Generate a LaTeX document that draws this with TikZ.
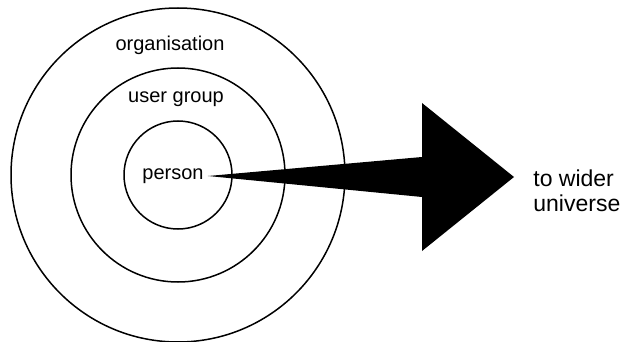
\documentclass[tikz,border=0pt]{standalone}
\usepackage{fontspec}
\setmainfont{Liberation Sans}
\usetikzlibrary{positioning}
\usetikzlibrary{calc}

\begin{document}
\begin{tikzpicture}[x=0.5pt, y=-0.5pt,
                    ring/.style={draw, circle, line width=0.75pt, inner sep=0pt},
                    lbl/.style={font=\fontsize{10}{12}\selectfont, inner sep=2pt},
                    far/.style={font=\fontsize{11.5}{12.5}\selectfont, align=left, inner sep=0pt}]
\useasboundingbox (0,0) rectangle (626,342);
\coordinate (c) at (178,175);
\node[ring, minimum size=167pt] (org) at (c) {};
\node[ring, minimum size=107pt] (grp) at (c) {};
\node[ring, minimum size=54pt]  (pers) at (c) {};

\node[lbl] (orglbl)  at (170,45)  {organisation};
\node[lbl] (grplbl)  at (176,99)  {user group};
\node[lbl] (perslbl) at (173,176) {person};

\coordinate (base) at (422,177);
\coordinate (tip) at (514,177);
\node[far, right=9.5pt of tip, yshift=-7pt] (wider) {to wider\\universe};

\fill (perslbl.east) -- ($(base)+(0,-20)$) -- ($(base)+(0,-74)$) -- (tip)
      -- ($(base)+(0,74)$) -- ($(base)+(0,20)$) -- cycle;
\end{tikzpicture}
\end{document}
